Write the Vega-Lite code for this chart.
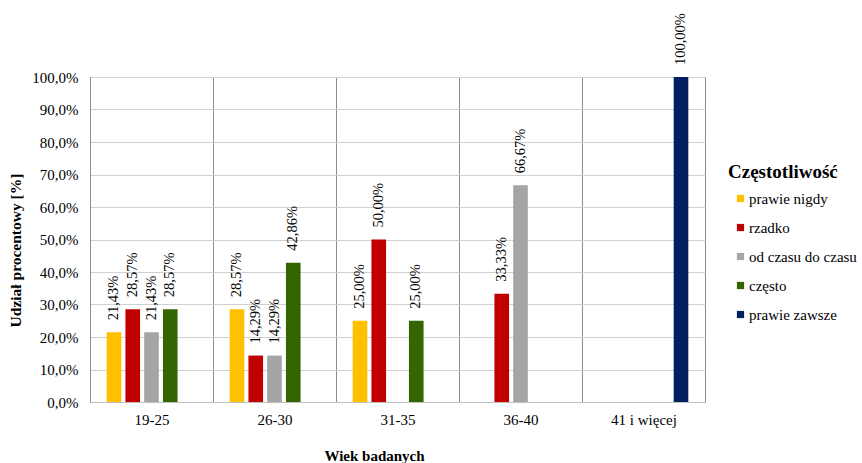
{
  "$schema": "https://vega.github.io/schema/vega-lite/v6.json",
  "width": 615,
  "height": 325,
  "autosize": {"type": "none"},
  "padding": {"left": 90, "top": 77, "right": 157, "bottom": 61},
  "background": "white",
  "config": {
    "font": "Liberation Serif",
    "axis": {"labelFont": "Liberation Serif", "titleFont": "Liberation Serif"},
    "legend": {"labelFont": "Liberation Serif", "titleFont": "Liberation Serif"},
    "text": {"font": "Liberation Serif"},
    "locale": {
      "number": {"decimal": ",", "thousands": " ", "grouping": [3], "currency": ["", " zł"]}
    },
    "view": {"stroke": "#bfbfbf", "strokeWidth": 1}
  },
  "data": {
    "values": [
      {"wiek": "19-25", "czestotliwosc": "prawie nigdy", "udzial": 0.2143},
      {"wiek": "19-25", "czestotliwosc": "rzadko", "udzial": 0.2857},
      {"wiek": "19-25", "czestotliwosc": "od czasu do czasu", "udzial": 0.2143},
      {"wiek": "19-25", "czestotliwosc": "często", "udzial": 0.2857},
      {"wiek": "26-30", "czestotliwosc": "prawie nigdy", "udzial": 0.2857},
      {"wiek": "26-30", "czestotliwosc": "rzadko", "udzial": 0.1429},
      {"wiek": "26-30", "czestotliwosc": "od czasu do czasu", "udzial": 0.1429},
      {"wiek": "26-30", "czestotliwosc": "często", "udzial": 0.4286},
      {"wiek": "31-35", "czestotliwosc": "prawie nigdy", "udzial": 0.25},
      {"wiek": "31-35", "czestotliwosc": "rzadko", "udzial": 0.5},
      {"wiek": "31-35", "czestotliwosc": "często", "udzial": 0.25},
      {"wiek": "36-40", "czestotliwosc": "rzadko", "udzial": 0.3333},
      {"wiek": "36-40", "czestotliwosc": "od czasu do czasu", "udzial": 0.6667},
      {"wiek": "41 i więcej", "czestotliwosc": "prawie zawsze", "udzial": 1.0}
    ]
  },
  "encoding": {
    "x": {
      "field": "wiek",
      "type": "nominal",
      "sort": ["19-25", "26-30", "31-35", "36-40", "41 i więcej"],
      "scale": {"paddingInner": 0, "paddingOuter": 0},
      "axis": {
        "title": "Wiek badanych",
        "titleFontSize": 15,
        "titleFontWeight": "bold",
        "titleColor": "black",
        "titleX": 284,
        "titleY": 53,
        "titleBaseline": "middle",
        "labelAngle": 0,
        "labelFontSize": 15,
        "labelColor": "black",
        "labelPadding": 10,
        "ticks": false,
        "tickBand": "extent",
        "grid": true,
        "gridColor": "#8c8c8c",
        "gridWidth": 1,
        "domainColor": "#bfbfbf"
      }
    },
    "xOffset": {
      "field": "czestotliwosc",
      "type": "nominal",
      "scale": {
        "domain": ["prawie nigdy", "rzadko", "od czasu do czasu", "często", "prawie zawsze"],
        "paddingInner": 0.22,
        "paddingOuter": 0.89
      }
    },
    "y": {
      "field": "udzial",
      "type": "quantitative",
      "scale": {"domain": [0, 1], "nice": false},
      "axis": {
        "title": "Udział procentowy [%]",
        "titleFontSize": 15.5,
        "titleFontWeight": "bold",
        "titleColor": "black",
        "titleX": -75,
        "titleY": 173,
        "titleBaseline": "middle",
        "values": [0, 0.1, 0.2, 0.3, 0.4, 0.5, 0.6, 0.7, 0.8, 0.9, 1.0],
        "format": ".1%",
        "labelFontSize": 15,
        "labelColor": "black",
        "labelPadding": 12,
        "ticks": false,
        "grid": true,
        "gridColor": "#d0d0d0",
        "gridWidth": 1,
        "domainColor": "#8c8c8c"
      }
    }
  },
  "layer": [
    {
      "mark": {"type": "bar"},
      "encoding": {
        "color": {
          "field": "czestotliwosc",
          "type": "nominal",
          "scale": {
            "domain": ["prawie nigdy", "rzadko", "od czasu do czasu", "często", "prawie zawsze"],
            "range": ["#ffc000", "#c00000", "#a5a5a5", "#336600", "#002060"]
          },
          "legend": {
            "title": "Częstotliwość",
            "orient": "none",
            "legendX": 638,
            "legendY": 86,
            "titleFontSize": 19,
            "titleFontWeight": "bold",
            "titleColor": "black",
            "titlePadding": 9,
            "symbolType": "square",
            "symbolSize": 52,
            "symbolStrokeWidth": 0,
            "symbolOffset": 5,
            "labelFontSize": 15,
            "labelColor": "black",
            "labelOffset": 1,
            "labelLimit": 200,
            "rowPadding": 13
          }
        }
      }
    },
    {
      "mark": {
        "type": "text",
        "angle": 270,
        "align": "left",
        "baseline": "middle",
        "dx": 12,
        "fontSize": 14.5,
        "color": "black"
      },
      "encoding": {
        "text": {"field": "udzial", "type": "quantitative", "format": ".2%"}
      }
    }
  ]
}
